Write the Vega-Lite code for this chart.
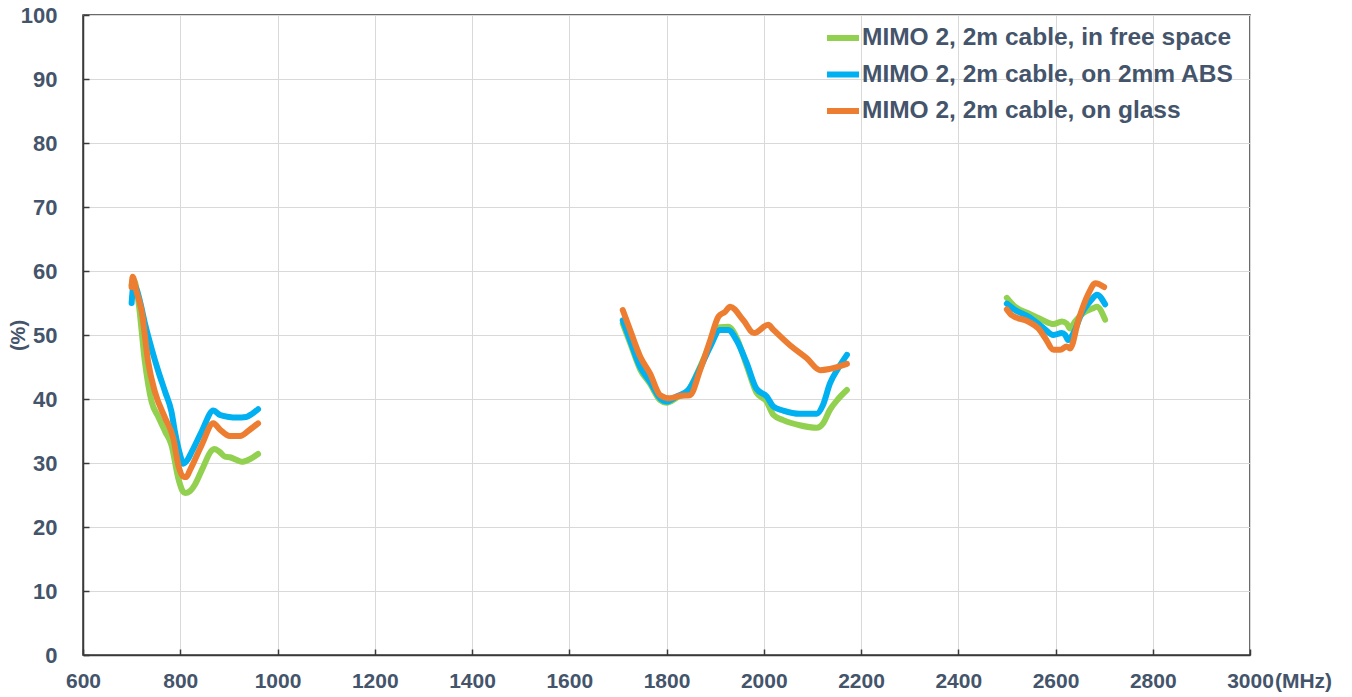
{
  "$schema": "https://vega.github.io/schema/vega-lite/v6.json",
  "width": 1167,
  "height": 640,
  "autosize": {"type": "none"},
  "padding": {"left": 83, "top": 15, "right": 102, "bottom": 42},
  "background": "white",
  "config": {
    "view": {"stroke": "#3a3a3a", "strokeWidth": 1.5},
    "font": "Liberation Sans"
  },
  "data": {"values": [
    {"s":"g","seg":1,"f":700,"v":57.8},{"s":"g","seg":1,"f":705,"v":58.5},{"s":"g","seg":1,"f":714,"v":55.2},{"s":"g","seg":1,"f":727,"v":46.0},{"s":"g","seg":1,"f":741,"v":39.6},{"s":"g","seg":1,"f":755,"v":37.2},{"s":"g","seg":1,"f":769,"v":34.9},{"s":"g","seg":1,"f":782,"v":32.8},{"s":"g","seg":1,"f":796,"v":27.6},{"s":"g","seg":1,"f":805,"v":25.6},{"s":"g","seg":1,"f":810,"v":25.3},{"s":"g","seg":1,"f":820,"v":25.6},{"s":"g","seg":1,"f":830,"v":26.6},{"s":"g","seg":1,"f":845,"v":29.0},{"s":"g","seg":1,"f":865,"v":32.0},{"s":"g","seg":1,"f":870,"v":32.2},{"s":"g","seg":1,"f":880,"v":31.8},{"s":"g","seg":1,"f":892,"v":31.0},{"s":"g","seg":1,"f":902,"v":30.9},{"s":"g","seg":1,"f":915,"v":30.5},{"s":"g","seg":1,"f":926,"v":30.2},{"s":"g","seg":1,"f":943,"v":30.6},{"s":"g","seg":1,"f":960,"v":31.4},
    {"s":"g","seg":2,"f":1710,"v":51.8},{"s":"g","seg":2,"f":1725,"v":48.8},{"s":"g","seg":2,"f":1746,"v":44.6},{"s":"g","seg":2,"f":1766,"v":42.4},{"s":"g","seg":2,"f":1787,"v":39.8},{"s":"g","seg":2,"f":1800,"v":39.4},{"s":"g","seg":2,"f":1821,"v":40.2},{"s":"g","seg":2,"f":1845,"v":41.4},{"s":"g","seg":2,"f":1869,"v":45.0},{"s":"g","seg":2,"f":1890,"v":48.6},{"s":"g","seg":2,"f":1910,"v":51.2},{"s":"g","seg":2,"f":1927,"v":51.3},{"s":"g","seg":2,"f":1944,"v":49.6},{"s":"g","seg":2,"f":1965,"v":45.2},{"s":"g","seg":2,"f":1985,"v":41.0},{"s":"g","seg":2,"f":2006,"v":39.6},{"s":"g","seg":2,"f":2020,"v":37.5},{"s":"g","seg":2,"f":2040,"v":36.7},{"s":"g","seg":2,"f":2074,"v":35.9},{"s":"g","seg":2,"f":2109,"v":35.5},{"s":"g","seg":2,"f":2122,"v":36.2},{"s":"g","seg":2,"f":2136,"v":38.3},{"s":"g","seg":2,"f":2153,"v":40.0},{"s":"g","seg":2,"f":2171,"v":41.4},
    {"s":"g","seg":3,"f":2500,"v":55.8},{"s":"g","seg":3,"f":2517,"v":54.4},{"s":"g","seg":3,"f":2544,"v":53.4},{"s":"g","seg":3,"f":2572,"v":52.4},{"s":"g","seg":3,"f":2596,"v":51.7},{"s":"g","seg":3,"f":2613,"v":52.1},{"s":"g","seg":3,"f":2623,"v":51.8},{"s":"g","seg":3,"f":2630,"v":51.0},{"s":"g","seg":3,"f":2640,"v":52.1},{"s":"g","seg":3,"f":2657,"v":53.4},{"s":"g","seg":3,"f":2678,"v":54.2},{"s":"g","seg":3,"f":2685,"v":54.4},{"s":"g","seg":3,"f":2702,"v":52.4},
    {"s":"b","seg":1,"f":700,"v":55.0},{"s":"b","seg":1,"f":704,"v":57.8},{"s":"b","seg":1,"f":711,"v":57.0},{"s":"b","seg":1,"f":718,"v":55.0},{"s":"b","seg":1,"f":728,"v":51.6},{"s":"b","seg":1,"f":741,"v":47.9},{"s":"b","seg":1,"f":755,"v":44.3},{"s":"b","seg":1,"f":769,"v":41.1},{"s":"b","seg":1,"f":782,"v":38.0},{"s":"b","seg":1,"f":789,"v":34.9},{"s":"b","seg":1,"f":800,"v":31.2},{"s":"b","seg":1,"f":806,"v":29.9},{"s":"b","seg":1,"f":815,"v":30.5},{"s":"b","seg":1,"f":824,"v":31.8},{"s":"b","seg":1,"f":844,"v":34.9},{"s":"b","seg":1,"f":868,"v":38.2},{"s":"b","seg":1,"f":882,"v":37.5},{"s":"b","seg":1,"f":900,"v":37.2},{"s":"b","seg":1,"f":916,"v":37.1},{"s":"b","seg":1,"f":936,"v":37.2},{"s":"b","seg":1,"f":948,"v":37.7},{"s":"b","seg":1,"f":960,"v":38.4},
    {"s":"b","seg":2,"f":1710,"v":52.3},{"s":"b","seg":2,"f":1725,"v":49.2},{"s":"b","seg":2,"f":1746,"v":45.0},{"s":"b","seg":2,"f":1766,"v":42.7},{"s":"b","seg":2,"f":1787,"v":40.1},{"s":"b","seg":2,"f":1800,"v":39.6},{"s":"b","seg":2,"f":1821,"v":40.4},{"s":"b","seg":2,"f":1845,"v":41.4},{"s":"b","seg":2,"f":1869,"v":44.8},{"s":"b","seg":2,"f":1890,"v":48.2},{"s":"b","seg":2,"f":1910,"v":50.8},{"s":"b","seg":2,"f":1927,"v":50.8},{"s":"b","seg":2,"f":1944,"v":49.2},{"s":"b","seg":2,"f":1965,"v":45.6},{"s":"b","seg":2,"f":1985,"v":41.6},{"s":"b","seg":2,"f":2006,"v":40.4},{"s":"b","seg":2,"f":2020,"v":38.8},{"s":"b","seg":2,"f":2040,"v":38.2},{"s":"b","seg":2,"f":2074,"v":37.7},{"s":"b","seg":2,"f":2109,"v":37.7},{"s":"b","seg":2,"f":2122,"v":39.1},{"s":"b","seg":2,"f":2136,"v":42.4},{"s":"b","seg":2,"f":2153,"v":44.8},{"s":"b","seg":2,"f":2171,"v":46.9},
    {"s":"b","seg":3,"f":2500,"v":54.9},{"s":"b","seg":3,"f":2517,"v":53.9},{"s":"b","seg":3,"f":2544,"v":52.9},{"s":"b","seg":3,"f":2572,"v":51.3},{"s":"b","seg":3,"f":2596,"v":50.0},{"s":"b","seg":3,"f":2613,"v":50.3},{"s":"b","seg":3,"f":2620,"v":50.0},{"s":"b","seg":3,"f":2626,"v":49.2},{"s":"b","seg":3,"f":2637,"v":50.3},{"s":"b","seg":3,"f":2654,"v":53.4},{"s":"b","seg":3,"f":2674,"v":55.5},{"s":"b","seg":3,"f":2685,"v":56.3},{"s":"b","seg":3,"f":2702,"v":54.8},
    {"s":"o","seg":1,"f":700,"v":57.5},{"s":"o","seg":1,"f":702,"v":59.1},{"s":"o","seg":1,"f":710,"v":56.8},{"s":"o","seg":1,"f":721,"v":53.6},{"s":"o","seg":1,"f":734,"v":45.8},{"s":"o","seg":1,"f":748,"v":41.1},{"s":"o","seg":1,"f":769,"v":37.0},{"s":"o","seg":1,"f":786,"v":33.8},{"s":"o","seg":1,"f":796,"v":29.7},{"s":"o","seg":1,"f":806,"v":27.9},{"s":"o","seg":1,"f":812,"v":27.8},{"s":"o","seg":1,"f":820,"v":28.9},{"s":"o","seg":1,"f":844,"v":32.8},{"s":"o","seg":1,"f":868,"v":36.2},{"s":"o","seg":1,"f":882,"v":35.2},{"s":"o","seg":1,"f":902,"v":34.2},{"s":"o","seg":1,"f":923,"v":34.2},{"s":"o","seg":1,"f":943,"v":35.2},{"s":"o","seg":1,"f":960,"v":36.2},
    {"s":"o","seg":2,"f":1710,"v":53.9},{"s":"o","seg":2,"f":1725,"v":50.8},{"s":"o","seg":2,"f":1746,"v":46.6},{"s":"o","seg":2,"f":1766,"v":44.0},{"s":"o","seg":2,"f":1787,"v":40.6},{"s":"o","seg":2,"f":1807,"v":40.1},{"s":"o","seg":2,"f":1828,"v":40.5},{"s":"o","seg":2,"f":1848,"v":40.6},{"s":"o","seg":2,"f":1869,"v":44.5},{"s":"o","seg":2,"f":1890,"v":49.2},{"s":"o","seg":2,"f":1907,"v":52.9},{"s":"o","seg":2,"f":1920,"v":53.6},{"s":"o","seg":2,"f":1931,"v":54.4},{"s":"o","seg":2,"f":1958,"v":52.3},{"s":"o","seg":2,"f":1980,"v":50.3},{"s":"o","seg":2,"f":2009,"v":51.6},{"s":"o","seg":2,"f":2020,"v":50.8},{"s":"o","seg":2,"f":2054,"v":48.4},{"s":"o","seg":2,"f":2088,"v":46.4},{"s":"o","seg":2,"f":2116,"v":44.5},{"s":"o","seg":2,"f":2136,"v":44.7},{"s":"o","seg":2,"f":2171,"v":45.5},
    {"s":"o","seg":3,"f":2500,"v":54.0},{"s":"o","seg":3,"f":2510,"v":53.1},{"s":"o","seg":3,"f":2544,"v":52.1},{"s":"o","seg":3,"f":2565,"v":51.0},{"s":"o","seg":3,"f":2579,"v":49.5},{"s":"o","seg":3,"f":2596,"v":47.7},{"s":"o","seg":3,"f":2610,"v":47.7},{"s":"o","seg":3,"f":2623,"v":48.2},{"s":"o","seg":3,"f":2630,"v":47.9},{"s":"o","seg":3,"f":2647,"v":52.3},{"s":"o","seg":3,"f":2668,"v":56.5},{"s":"o","seg":3,"f":2682,"v":58.1},{"s":"o","seg":3,"f":2700,"v":57.5}
  ]},
  "mark": {"type": "line", "strokeWidth": 6, "strokeCap": "round", "strokeJoin": "round", "interpolate": "monotone", "clip": true},
  "encoding": {
    "x": {
      "field": "f", "type": "quantitative",
      "scale": {"domain": [600, 3000], "nice": false, "zero": false},
      "axis": {
        "values": [600,800,1000,1200,1400,1600,1800,2000,2200,2400,2600,2800,3000],
        "format": "d",
        "grid": true, "gridColor": "#d9d9d9", "gridWidth": 1,
        "domain": true, "domainColor": "#3a3a3a", "domainWidth": 1.5,
        "ticks": true, "tickSize": -6, "tickColor": "#3a3a3a", "tickWidth": 1.5,
        "labelPadding": 21, "labelFont": "Liberation Sans", "labelFontWeight": "bold", "labelFontSize": 21, "labelColor": "#44546a",
        "labelFlush": false, "labelOverlap": false,
        "title": "(MHz)", "titleFont": "Liberation Sans", "titleFontWeight": "bold", "titleFontSize": 21, "titleColor": "#44546a",
        "titleX": 1220, "titleY": 26, "titleAlign": "center", "titleBaseline": "middle", "titleAnchor": null
      }
    },
    "y": {
      "field": "v", "type": "quantitative",
      "scale": {"domain": [0, 100], "nice": false},
      "axis": {
        "values": [0,10,20,30,40,50,60,70,80,90,100],
        "grid": true, "gridColor": "#d9d9d9", "gridWidth": 1,
        "domain": true, "domainColor": "#3a3a3a", "domainWidth": 1.5,
        "ticks": true, "tickSize": -6, "tickColor": "#3a3a3a", "tickWidth": 1.5,
        "labelPadding": 32, "labelFont": "Liberation Sans", "labelFontWeight": "bold", "labelFontSize": 22, "labelColor": "#44546a",
        "labelFlush": false, "labelOverlap": false,
        "title": "(%)", "titleFont": "Liberation Sans", "titleFontWeight": "bold", "titleFontSize": 20, "titleColor": "#44546a",
        "titleX": -65, "titleY": 320, "titleAngle": -90, "titleAlign": "center", "titleBaseline": "middle"
      }
    },
    "color": {
      "field": "s", "type": "nominal",
      "scale": {"domain": ["g", "b", "o"], "range": ["#92d050", "#00b0f0", "#ed7d31"]},
      "legend": {
        "title": null, "orient": "none", "legendX": 741, "legendY": 4, "padding": 0,
        "symbolType": "stroke", "symbolSize": 1024, "symbolStrokeWidth": 6,
        "labelExpr": "datum.value == 'g' ? 'MIMO 2, 2m cable, in free space' : datum.value == 'b' ? 'MIMO 2, 2m cable, on 2mm ABS' : 'MIMO 2, 2m cable, on glass'",
        "labelFont": "Liberation Sans", "labelFontWeight": "bold", "labelFontSize": 24.5, "labelColor": "#44546a",
        "labelLimit": 600, "labelOffset": 0, "rowPadding": 5.5
      }
    },
    "detail": {"field": "seg", "type": "nominal"},
    "order": {"field": "f", "type": "quantitative"}
  }
}
